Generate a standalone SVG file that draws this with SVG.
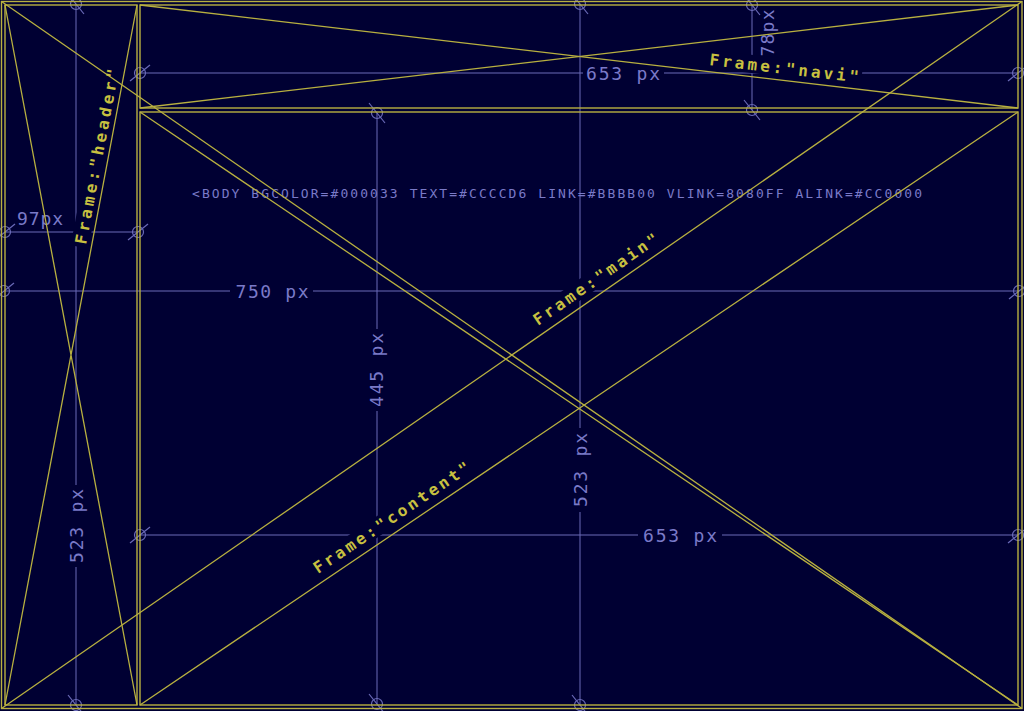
<svg xmlns="http://www.w3.org/2000/svg" width="1024" height="711" viewBox="0 0 1024 711">
<defs>
<style>
.bg{fill:#000033}
.frm{fill:none;stroke:#b8b040;stroke-width:1.4}
.x{stroke:#b8b040;stroke-width:1.3;fill:none}
.dim{stroke:#6a6ab8;stroke-width:1;fill:none;marker-start:url(#tick);marker-end:url(#tick)}
.dt{font-family:"DejaVu Sans Mono","Liberation Mono",monospace;font-size:18px;fill:#7a7ac8}
.lt{font-family:"DejaVu Sans Mono","Liberation Mono",monospace;font-size:16px;font-weight:bold;fill:#c8c040}
.bt{font-family:"DejaVu Sans Mono","Liberation Mono",monospace;font-size:13px;fill:#7a7ac8}
</style>
<marker id="tick" markerUnits="userSpaceOnUse" markerWidth="24" markerHeight="24" viewBox="-12 -12 24 24" refX="0" refY="0" orient="auto" overflow="visible">
<circle r="5.5" fill="none" stroke="#6a6ab8" stroke-width="1.2"/>
<line x1="-10" y1="8" x2="10" y2="-8" stroke="#6a6ab8" stroke-width="1.2"/>
</marker>
</defs>
<rect class="bg" x="0" y="0" width="1024" height="711"/>

<g id="dimensions">
<path class="dim" d="M140,73 H583 M664,73 H1018"/>
<text class="dt" x="623" y="79.5" text-anchor="middle" textLength="74">653 px</text>
<path class="dim" d="M5,232 H138"/>
<text class="dt" x="17" y="224.5" textLength="46">97px</text>
<path class="dim" d="M4,291 H230 M313,291 H1019"/>
<text class="dt" x="272" y="297.5" text-anchor="middle" textLength="73">750 px</text>
<path class="dim" d="M140,535 H638 M722,535 H1018"/>
<text class="dt" x="680" y="541.5" text-anchor="middle" textLength="74">653 px</text>
<path class="dim" d="M76,4 V485 M76,567 V705"/>
<text class="dt" transform="translate(76,526) rotate(-90)" x="0" y="6.5" text-anchor="middle" textLength="74">523 px</text>
<path class="dim" d="M752,5 V110"/>
<text class="dt" transform="translate(774,33) rotate(-90)" x="0" y="0" text-anchor="middle" textLength="47">78px</text>
<path class="dim" d="M377,113 V329 M377,411 V704"/>
<text class="dt" transform="translate(376,370) rotate(-90)" x="0" y="6.5" text-anchor="middle" textLength="74">445 px</text>
<path class="dim" d="M580,4 V428 M580,512 V705"/>
<text class="dt" transform="translate(580,470) rotate(-90)" x="0" y="6.5" text-anchor="middle" textLength="74">523 px</text>
</g>

<g id="label-backgrounds">
<rect class="bg" transform="translate(709,65) rotate(6.69)" x="-3" y="-15" width="156" height="18"/>
<rect class="bg" transform="translate(538,326) rotate(-34.73)" x="-3" y="-15" width="154" height="18"/>
<rect class="bg" transform="translate(318,574) rotate(-34.03)" x="-3" y="-15" width="191" height="18"/>
<rect class="bg" transform="translate(86,245) rotate(-79.3)" x="-3" y="-15" width="184" height="18"/>
</g>

<g id="body-tag">
<text class="bt" x="192" y="198" textLength="730">&lt;BODY BGCOLOR=#000033 TEXT=#CCCCD6 LINK=#BBBB00 VLINK=8080FF ALINK=#CC0000</text>
</g>

<g id="page">
<rect class="frm" x="1.5" y="1.5" width="1020.5" height="707"/>
<path class="x" d="M1.5,1.5 L1022,708.5 M1022,1.5 L1.5,708.5"/>
</g>

<g id="frame-header">
<rect class="frm" x="5" y="5" width="132" height="700"/>
<path class="x" d="M5,5 L137,705 M137,5 L5,705"/>
<text class="lt" transform="translate(86,245) rotate(-79.3)" x="0" y="0" textLength="178">Frame:"header"</text>
</g>

<g id="frame-navi">
<rect class="frm" x="140" y="5" width="878" height="103"/>
<path class="x" d="M140,5 L1018,108 M1018,5 L140,108"/>
<text class="lt" transform="translate(709,65) rotate(6.69)" x="0" y="0" textLength="150">Frame:"navi"</text>
</g>

<g id="frame-main">
<rect class="frm" x="140" y="112" width="878" height="593"/>
<path class="x" d="M140,112 L1018,705 M1018,112 L140,705"/>
<text class="lt" transform="translate(538,326) rotate(-34.73)" x="0" y="0" textLength="148">Frame:"main"</text>
<text class="lt" transform="translate(318,574) rotate(-34.03)" x="0" y="0" textLength="185">Frame:"content"</text>
</g>
</svg>
